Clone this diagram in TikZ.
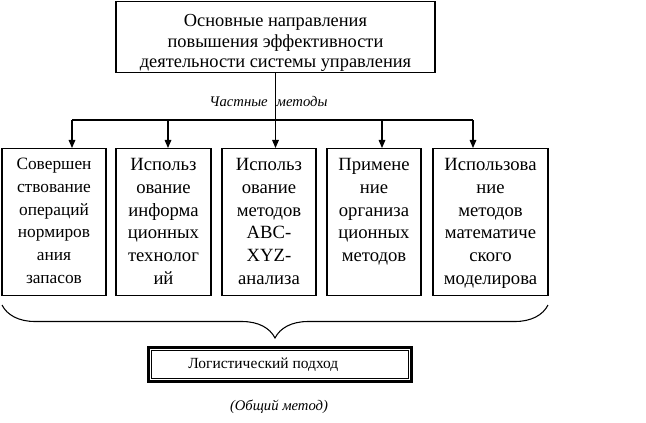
\documentclass[tikz,border=0pt]{standalone}
\usepackage{fontspec}
\setmainfont{Liberation Serif}
\usetikzlibrary{arrows.meta,decorations.pathreplacing}

\begin{document}
\begin{tikzpicture}[x=0.75pt,y=-0.75pt,
  box/.style={draw,line width=0.8pt,inner sep=0pt,align=center},
  method/.style={box,minimum height=110.25pt,font=\fontsize{14}{17}\selectfont},
  arr/.style={-{Triangle[length=6pt,width=5pt]},line width=0.8pt}]
\def\coltext#1#2{\parbox[c][110.25pt][t]{#1}{\centering\vspace{7.5pt}#2}}

\useasboundingbox (0,0) rectangle (646,422);

\node[box,minimum width=239.25pt,minimum height=53.5pt,font=\fontsize{13.8}{15.4}\selectfont] (goal) at (275.5,37)
  {\parbox[c][50pt][c]{235pt}{\centering\vspace{9pt}Основные направления\\повышения эффективности\\деятельности системы управления}};

\node[method,font=\fontsize{13}{17}\selectfont] (m1) at (54,222) {\coltext{78pt}{Совершен\\ствование\\операций\\нормиров\\ания\\запасов}};
\node[method] (m2) at (163.5,222) {\coltext{71.25pt}{Использ\\ование\\информа\\ционных\\технолог\\ий}};
\node[method] (m3) at (269,222) {\coltext{70.5pt}{Использ\\ование\\методов\\ABC-\\XYZ-\\анализа}};
\node[method] (m4) at (374,222) {\coltext{70.5pt}{Примене\\ние\\организа\\ционных\\методов}};
\node[method] (m5) at (490.5,222) {\coltext{86.25pt}{Использова\\ние\\методов\\математиче\\ского\\моделирова}};

\coordinate (bus) at (275.5,120);
\coordinate (a1) at (72,120);
\coordinate (a2) at (168,120);
\coordinate (a3) at (275.5,120);
\coordinate (a4) at (382,120);
\coordinate (a5) at (473,120);

\draw[line width=0.8pt] (goal.south) -- (bus);
\draw[line width=0.8pt] (a1) -- (a5);
\draw[arr] (a1) -- (a1 |- m1.north);
\draw[arr] (a2) -- (a2 |- m2.north);
\draw[arr] (a3) -- (a3 |- m3.north);
\draw[arr] (a4) -- (a4 |- m4.north);
\draw[arr] (a5) -- (a5 |- m5.north);

\node[font=\fontsize{11}{13}\itshape] (part) at (268.5,101) {Частные\hspace{4pt} методы};

\coordinate (bl) at (2,305);
\coordinate (br) at (548,305);
\draw[line width=0.8pt,decorate,decoration={brace,mirror,amplitude=24.75pt}] (bl) -- (br);

\node[draw,line width=2.4pt,minimum width=197pt,minimum height=25.5pt,inner sep=0pt,
  font=\fontsize{11.6}{14}\selectfont] (logist) at (280,364.5) {Логистический подход\hspace*{25pt}};
\draw[line width=0.7pt] ([xshift=3.4pt,yshift=-3.4pt]logist.north west) rectangle ([xshift=-3.4pt,yshift=3.4pt]logist.south east);

\node[font=\fontsize{11}{13}\itshape] (general) at (279,407) {(Общий метод)};
\end{tikzpicture}
\end{document}
